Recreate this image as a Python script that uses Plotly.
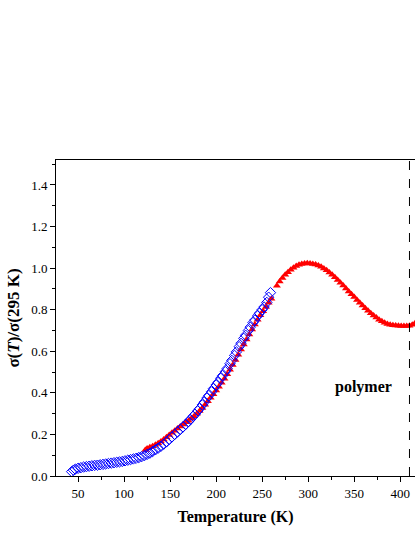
import plotly.graph_objects as go

# Blue open diamonds (measurement series 1)
blue_T = [43, 45, 47, 50, 53, 56, 59, 62, 65, 68, 71, 74, 77, 80, 83, 86, 89, 92, 95, 98,
          101, 104, 107, 110, 113, 116, 119, 122, 125, 128, 131, 134, 137, 140, 143, 146,
          149, 152, 155, 158, 161, 164, 167, 170, 172, 175, 177, 180, 182, 185, 187, 190,
          192, 195, 197, 200, 202, 205, 207, 210, 212, 215, 217, 220, 222, 225, 227, 230,
          232, 235, 237, 240, 242, 245, 247, 250, 252, 255, 257, 259]
blue_S = [0.021, 0.028, 0.033, 0.037, 0.040, 0.043, 0.045, 0.047, 0.049, 0.051, 0.052, 0.054,
          0.056, 0.058, 0.060, 0.062, 0.064, 0.066, 0.068, 0.070, 0.073, 0.076, 0.079, 0.082,
          0.085, 0.089, 0.093, 0.098, 0.104, 0.110, 0.118, 0.126, 0.134, 0.143, 0.153, 0.164,
          0.176, 0.188, 0.200, 0.212, 0.224, 0.236, 0.249, 0.262, 0.272, 0.287, 0.297, 0.313,
          0.324, 0.342, 0.355, 0.375, 0.387, 0.405, 0.420, 0.438, 0.450, 0.470, 0.483, 0.502,
          0.517, 0.540, 0.556, 0.580, 0.597, 0.622, 0.638, 0.662, 0.677, 0.700, 0.716, 0.738,
          0.750, 0.770, 0.783, 0.800, 0.813, 0.835, 0.860, 0.882]

# Red filled triangles (measurement series 2)
red_T = [123, 125, 128, 131, 134, 137, 140, 143, 146, 149, 152, 155, 158, 161, 164, 167, 170,
         173, 176, 179, 182, 185, 188, 191, 194, 197, 200, 203, 206, 209, 212, 215, 218, 221,
         224, 227, 230, 233, 236, 239, 242, 245, 248, 251, 254, 257, 260, 266, 269, 272, 275,
         278, 281, 284, 287, 290, 293, 296, 299, 302, 305, 308, 311, 314, 317, 320, 323, 326,
         329, 332, 335, 338, 341, 344, 347, 350, 353, 356, 359, 362, 365, 368, 371, 374, 377,
         380, 383, 386, 389, 392, 395, 398, 401, 404, 407, 410, 413, 416]
red_S = [0.125, 0.132, 0.138, 0.143, 0.150, 0.158, 0.166, 0.175, 0.186, 0.197, 0.208, 0.218,
         0.228, 0.238, 0.248, 0.258, 0.266, 0.276, 0.288, 0.300, 0.313, 0.327, 0.343, 0.359,
         0.376, 0.393, 0.411, 0.429, 0.448, 0.468, 0.489, 0.511, 0.534, 0.558, 0.583, 0.608,
         0.633, 0.657, 0.681, 0.705, 0.729, 0.751, 0.773, 0.793, 0.813, 0.833, 0.853, 0.915,
         0.935, 0.952, 0.968, 0.980, 0.992, 1.002, 1.010, 1.016, 1.020, 1.022, 1.023, 1.022,
         1.020, 1.017, 1.012, 1.006, 0.998, 0.990, 0.979, 0.968, 0.956, 0.943, 0.930, 0.916,
         0.902, 0.888, 0.874, 0.861, 0.847, 0.833, 0.820, 0.807, 0.795, 0.783, 0.772, 0.762,
         0.752, 0.744, 0.737, 0.731, 0.727, 0.725, 0.724, 0.723, 0.722, 0.722, 0.722, 0.723,
         0.728, 0.735]

x_ticks = [50, 100, 150, 200, 250, 300, 350, 400]
y_ticks = [0.0, 0.2, 0.4, 0.6, 0.8, 1.0, 1.2, 1.4]
transition_T = 410
label_text = "polymer"

FONT = "Liberation Serif"

fig = go.Figure()
fig.add_trace(go.Scatter(x=red_T, y=red_S, mode="markers",
                         marker=dict(symbol="triangle-up", size=7, color="#ff0000",
                                     line=dict(width=0)),
                         showlegend=False, hoverinfo="skip"))
fig.add_trace(go.Scatter(x=blue_T, y=blue_S, mode="markers",
                         marker=dict(symbol="diamond-open", size=8, color="#0000ff",
                                     line=dict(width=1)),
                         showlegend=False, hoverinfo="skip"))

fig.add_shape(type="line", x0=transition_T, x1=transition_T, xref="x", y0=0, y1=1, yref="paper",
              line=dict(color="black", width=1, dash="dash"), layer="above")

fig.add_annotation(x=360, y=0.428, text="<b>" + label_text + "</b>", showarrow=False,
                   font=dict(family=FONT, size=16, color="black"))

# Initial layout assumes the page's 8px body margin; post_script removes that margin
# and enlarges the figure to the full 415x537 window.
fig.update_layout(
    width=407, height=512,
    margin=dict(l=48, r=0, t=152, b=44),
    paper_bgcolor="white", plot_bgcolor="white",
    font=dict(family=FONT, size=13, color="black"),
    xaxis=dict(range=[26, 416], tickvals=x_ticks, ticktext=[str(v) for v in x_ticks],
               tickfont=dict(family=FONT, size=13),
               ticks="outside", ticklen=5, tickwidth=1, tickcolor="black",
               minor=dict(ticks="outside", ticklen=3, dtick=25, tick0=0, tickcolor="black"),
               showline=True, linecolor="black", linewidth=1, mirror=True,
               showgrid=False, zeroline=False,
               title=dict(text="<b>Temperature (K)</b>", font=dict(family=FONT, size=16),
                          standoff=11)),
    yaxis=dict(range=[0, 1.52], tickvals=y_ticks, ticktext=[f"{v:.1f}" for v in y_ticks],
               tickfont=dict(family=FONT, size=13),
               ticks="outside", ticklen=5, tickwidth=1, tickcolor="black",
               minor=dict(ticks="outside", ticklen=3, dtick=0.1, tick0=0, tickcolor="black"),
               showline=True, linecolor="black", linewidth=1, mirror=False,
               showgrid=False, zeroline=False,
               title=dict(text="<b>σ(<i>T</i>)/σ(295 K)</b>", font=dict(family=FONT, size=17),
                          standoff=7)),
)

post = (
    "document.body.style.margin='0px';"
    "document.body.style.overflow='hidden';"
    "var gd=document.getElementById('{plot_id}');"
    "gd.style.width='415px'; gd.style.height='537px';"
    "Plotly.relayout(gd, Object.fromEntries(["
    "['width',415],['height',537],['margin.l',56],['margin.r',0],"
    "['margin.t',160],['margin.b',61]]));"
)

fig.write_html("out.html", config={"responsive": False, "displayModeBar": False},
               post_script=post)
